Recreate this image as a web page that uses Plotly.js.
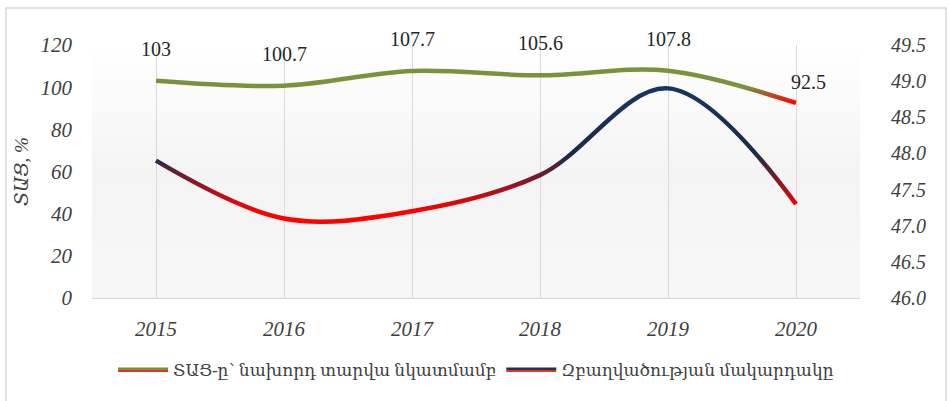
<!DOCTYPE html>
<html>
<head>
<meta charset="utf-8">
<script src="https://cdn.plot.ly/plotly-3.0.1.min.js"></script>
<style>
html,body{margin:0;padding:0;background:#fff;}
#chart{width:949px;height:401px;}
</style>
</head>
<body>
<div id="chart"></div>
<script>
// ---- data ----
const years = ['2015', '2016', '2017', '2018', '2019', '2020'];
const gdpGrowth = [103, 100.7, 107.7, 105.6, 107.8, 92.5];
const employmentLevel = [47.9, 47.1, 47.2, 47.7, 48.9, 47.3];
const gdpName = 'ՏԱՑ-ը՝ նախորդ տարվա նկատմամբ';
const employmentName = 'Զբաղվածության մակարդակը';
const yTitle = 'ՏԱՑ, %';

const serif = '"Liberation Serif", "DejaVu Serif", serif';
const textColor = '#404040';

const traces = [
  {
    x: years, y: gdpGrowth, name: gdpName, type: 'scatter', mode: 'lines',
    line: {shape: 'spline', smoothing: 1, width: 4.5, color: '#77933c'},
    hoverinfo: 'skip'
  },
  {
    x: years, y: employmentLevel, name: employmentName, type: 'scatter', mode: 'lines',
    yaxis: 'y2',
    line: {shape: 'spline', smoothing: 1, width: 4.5, color: '#17365d'},
    hoverinfo: 'skip'
  }
];

// category index positions for the data labels
const annotations = gdpGrowth.map((v, i) => ({
  x: i, y: v, xref: 'x', yref: 'y',
  text: String(v), showarrow: false,
  xanchor: 'center', yanchor: 'middle',
  yshift: i === gdpGrowth.length - 1 ? 21 : 32,
  xshift: i === gdpGrowth.length - 1 ? 12 : 0,
  font: {family: serif, size: 20, color: '#262626'}
}));

const layout = {
  width: 949, height: 401,
  margin: {l: 92, r: 89, t: 45, b: 103},
  paper_bgcolor: '#ffffff',
  plot_bgcolor: '#f6f6f6',
  showlegend: true,
  legend: {
    orientation: 'h', x: 0.5, xanchor: 'center', y: -0.285, yanchor: 'middle',
    font: {family: serif, size: 17, color: textColor},
    itemwidth: 50, tracegroupgap: 0
  },
  xaxis: {
    type: 'category', categoryarray: years, categoryorder: 'array',
    range: [-0.5, years.length - 0.5], autorange: false,
    showgrid: true, gridcolor: '#d9d9d9', gridwidth: 1,
    showline: true, linecolor: '#d9d9d9', linewidth: 1,
    ticks: '', zeroline: false,
    ticklabelstandoff: 12,
    tickfont: {family: serif, size: 21, color: textColor, style: 'italic'}
  },
  yaxis: {
    range: [0, 120], autorange: false, dtick: 20, tick0: 0,
    showgrid: false, zeroline: false, showline: false, ticks: '',
    ticklabelstandoff: 19,
    tickfont: {family: serif, size: 21, color: textColor, style: 'italic'},
    title: {text: yTitle, standoff: 6, font: {family: serif, size: 19, color: textColor, style: 'italic'}}
  },
  yaxis2: {
    overlaying: 'y', side: 'right',
    range: [46, 49.5], autorange: false, dtick: 0.5, tick0: 46, tickformat: '.1f',
    showgrid: false, zeroline: false, showline: false, ticks: '',
    ticklabelstandoff: 30,
    tickfont: {family: serif, size: 20, color: textColor, style: 'italic'}
  },
  annotations: annotations,
  shapes: [{
    type: 'rect', xref: 'paper', yref: 'paper',
    x0: -0.112, x1: 1.112, y0: -0.43, y1: 1.146,
    line: {color: '#d9d9d9', width: 1.5}, fillcolor: 'rgba(0,0,0,0)', layer: 'below'
  }]
};

function addGradients(gd) {
  const svg = gd.querySelector('svg.main-svg');
  if (!svg) return;
  const ns = 'http://www.w3.org/2000/svg';
  let defs = svg.querySelector('defs');
  if (!defs) { defs = document.createElementNS(ns, 'defs'); svg.insertBefore(defs, svg.firstChild); }
  function grad(id, units, coords, stops) {
    const old = defs.querySelector('#' + id);
    if (old) old.remove();
    const g = document.createElementNS(ns, 'linearGradient');
    g.setAttribute('id', id);
    g.setAttribute('gradientUnits', units);
    for (const k in coords) g.setAttribute(k, coords[k]);
    stops.forEach(s => {
      const st = document.createElementNS(ns, 'stop');
      st.setAttribute('offset', s[0]);
      st.setAttribute('stop-color', s[1]);
      g.appendChild(st);
    });
    defs.appendChild(g);
  }
  const bb = {x1: 0, y1: 0, x2: 0, y2: 1};
  grad('gGreen', 'objectBoundingBox', bb, [['0', '#77933c'], ['0.55', '#77933c'], ['1', '#ff0000']]);
  grad('gNavy', 'objectBoundingBox', bb, [['0', '#17365d'], ['0.5', '#1c2a4a'], ['0.92', '#ff0000'], ['1', '#ff0000']]);
  grad('gBg', 'objectBoundingBox', bb, [['0', '#ffffff'], ['0.5', '#f4f4f4'], ['1', '#f7f7f7']]);
  const ls = {x1: 0, y1: -2.5, x2: 0, y2: 2.5};
  grad('lGreen', 'userSpaceOnUse', ls, [['0', '#77933c'], ['0.55', '#77933c'], ['0.56', '#e8341c'], ['1', '#e8341c']]);
  grad('lNavy', 'userSpaceOnUse', ls, [['0', '#17365d'], ['0.55', '#17365d'], ['0.56', '#e8341c'], ['1', '#e8341c']]);

  const lines = gd.querySelectorAll('.scatterlayer .js-line');
  if (lines[0]) lines[0].style.stroke = 'url(#gGreen)';
  if (lines[1]) lines[1].style.stroke = 'url(#gNavy)';
  const bg = gd.querySelector('.bglayer .bg');
  if (bg) bg.style.fill = 'url(#gBg)';
  const leg = gd.querySelectorAll('.legend .traces .js-line');
  if (leg[0]) leg[0].style.stroke = 'url(#lGreen)';
  if (leg[1]) leg[1].style.stroke = 'url(#lNavy)';
}

const gd = document.getElementById('chart');
Plotly.newPlot(gd, traces, layout, {displayModeBar: false, staticPlot: true}).then(() => addGradients(gd));
</script>
</body>
</html>
